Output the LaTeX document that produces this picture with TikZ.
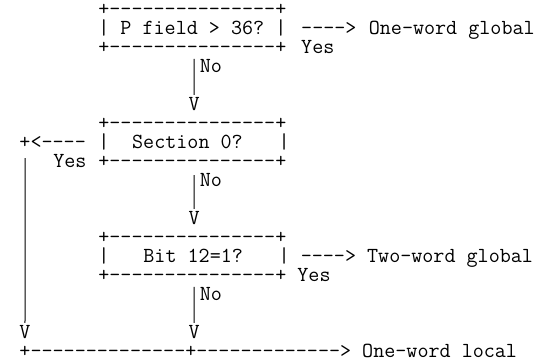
\documentclass[tikz,border=0pt]{standalone}

% a run of n hyphens, kept apart so no en/em dash ligature forms
\newcommand\dd[1]{\foreach \k in {1,...,#1}{-\kern0pt}}

\tikzset{
  cell/.style={anchor=base west, inner sep=0pt, outer sep=0pt,
    font=\fontsize{21.47pt}{19pt}\selectfont\ttfamily\frenchspacing},
  bar/.style={line width=1pt, black},
}

\begin{document}
\begin{tikzpicture}[x=11.27pt, y=-19pt]
  \fill[white] (0pt,0pt) rectangle (549pt,-361pt);
  \useasboundingbox (0pt,0pt) rectangle (549pt,-361pt);
  % character grid: one unit = one column / one text row
  \begin{scope}[shift={(8.2pt,-15.5pt)}, every node/.style={cell}]
    % first test
    \node (pTop)   at (8,0)  {+\dd{15}+};
    \node (pBox)   at (8,1)  {| P field > 36? |};
    \node (pArrow) at (26,1) {\dd{4}>};
    \node (pOut)   at (32,1) {One-word global};
    \node (pBot)   at (8,2)  {+\dd{15}+};
    \node (pYes)   at (26,2) {Yes};
    \node (pNo)    at (17,3) {No};
    \node (pTip)   at (16,5) {V};
    % second test
    \node (sTop)   at (8,6)  {+\dd{15}+};
    \node (sArrow) at (1,7)  {+<\dd{4}};
    \node (sLeft)  at (8,7)  {|};
    \node (sBox)   at (11,7) {Section 0?};
    \node (sRight) at (24,7) {|};
    \node (sYes)   at (4,8)  {Yes};
    \node (sBot)   at (8,8)  {+\dd{15}+};
    \node (sNo)    at (17,9) {No};
    \node (sTip)   at (16,11) {V};
    \node (retTip) at (1,17) {V};
    % third test
    \node (bTop)   at (8,12) {+\dd{15}+};
    \node (bLeft)  at (8,13) {|};
    \node (bBox)   at (12,13) {Bit 12=1?};
    \node (bRight) at (24,13) {| \dd{4}> Two-word global};
    \node (bBot)   at (8,14) {+\dd{15}+ Yes};
    \node (bNo)    at (17,15) {No};
    \node (bTip)   at (16,17) {V};
    % common exit
    \node (exit)   at (1,18) {+\dd{14}+\dd{13}> One-word local};

    % upper ends of the vertical runs
    \coordinate (pBarTop)   at (16.5,2.28);
    \coordinate (sBarTop)   at (16.5,8.4);
    \coordinate (bBarTop)   at (16.5,14.28);
    \coordinate (retBarTop) at (1.5,7.5);
  \end{scope}

  % vertical runs down to the V heads
  \draw[bar] (pBarTop)   -- ([yshift=2.5pt]pTip.north);
  \draw[bar] (sBarTop)   -- ([yshift=2.5pt]sTip.north);
  \draw[bar] (bBarTop)   -- ([yshift=2.5pt]bTip.north);
  \draw[bar] (retBarTop) -- ([yshift=2.5pt]retTip.north);
\end{tikzpicture}
\end{document}
